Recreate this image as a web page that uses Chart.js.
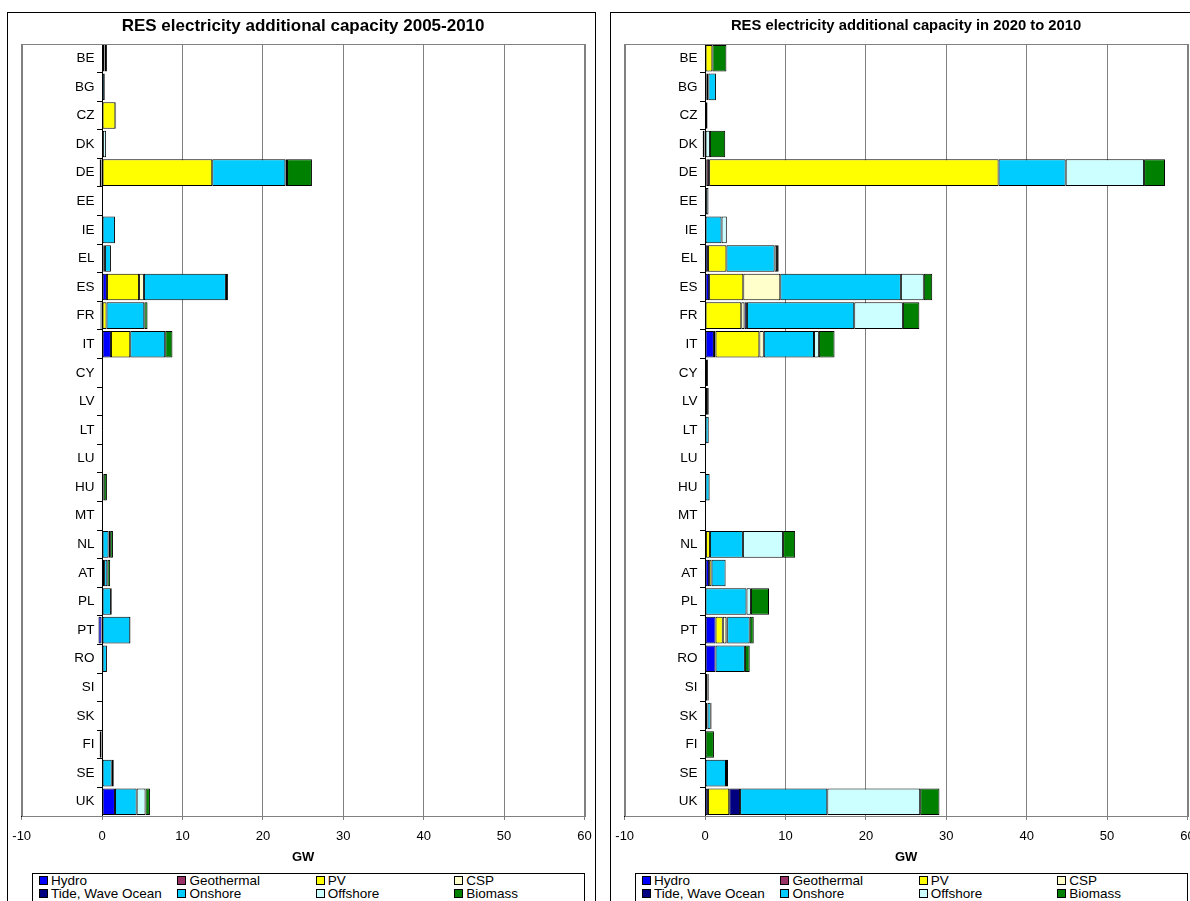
<!DOCTYPE html>
<html>
<head>
<meta charset="utf-8">
<script src="https://cdn.jsdelivr.net/npm/chart.js@4.4.0/dist/chart.umd.min.js"></script>
<style>
  html, body { margin: 0; padding: 0; background: #fff; overflow: hidden; width: 1190px; height: 901px; }
  .box { position: absolute; top: 12px; width: 589px; height: 900px; border: 1px solid #000; box-sizing: border-box; }
  canvas { position: absolute; top: 12px; }
  .axtitle { position: absolute; top: 849px; width: 100px; text-align: center; line-height: 16px;
             font: bold 13px "Liberation Sans", Arial, sans-serif; color: #000; }
  .legend { position: absolute; top: 873px; width: 553px; height: 40px; border: 1px solid #000; box-sizing: border-box;
            font-family: "Liberation Sans", Arial, sans-serif; font-size: 13.5px; color: #000; }
  .legend .item { position: absolute; white-space: nowrap; line-height: 13px; }
  .legend .sw { display: inline-block; width: 7px; height: 7px; border: 1px solid #000; margin-right: 3px; vertical-align: 0px; }
</style>
</head>
<body>
<div class="box" style="left:7px"></div>
<div class="box" style="left:610px"></div>
<canvas id="left" width="589" height="840" style="left:7px"></canvas>
<canvas id="right" width="589" height="840" style="left:610px"></canvas>
<div class="axtitle" id="gwLeft">GW</div>
<div class="axtitle" id="gwRight">GW</div>
<div class="legend" id="legLeft" style="left:32px"></div>
<div class="legend" id="legRight" style="left:635px"></div>
<script>
var countries = ['BE','BG','CZ','DK','DE','EE','IE','EL','ES','FR','IT','CY','LV','LT','LU','HU','MT','NL','AT','PL','PT','RO','SI','SK','FI','SE','UK'];
var seriesNames = ['Hydro','Geothermal','PV','CSP','Tide, Wave Ocean','Onshore','Offshore','Biomass'];
var seriesColors = ['#0000FF','#993366','#FFFF00','#FFFFCC','#000080','#00CCFF','#CCFFFF','#008000'];
var xTicks = [-10, 0, 10, 20, 30, 40, 50, 60];

// 2005-2010, GW, one value per country
var hydro0510      = [0,0,0,0,-0.3,0,0,0.15,0.6,-0.2,1.1,0,0,0,0,0,0,0,0.25,0,-0.45,0,0.05,0.05,0,0,1.6];
var geothermal0510 = [0,0,0,0,0,0,0,0,0,0,0,0,0,0,0,0,0,0,0,0,0,0,0,0,0,0,0];
var pv0510         = [0.3,0,1.65,0,13.7,0,0,0.2,4.0,0.55,2.4,0,0,0,0,0,0,0,0,0,0,0,0,0,0,0,0];
var csp0510        = [0,0,0,0,0,0,0,0,0.6,0,0,0,0,0,0,0,0,0,0,0,0,0,0,0,0,0,0];
var tide0510       = [0,0,0,0,0,0,0,0,0,0,0,0,0,0,0,0,0,0,0,0,0,0,0,0,0,0,0];
var onshore0510    = [0.05,0.33,0,0.1,9.1,0,1.6,0.75,10.2,4.7,4.35,0,0,0.1,0,0.2,0,0.8,0.4,1.1,3.5,0.6,0,0,0,1.2,2.7];
var offshore0510   = [0,0,0,0.4,0.2,0,0,0,0,0,0,0,0,0,0,0,0,0.2,0,0,0,0,0,0,0,0,1.1];
var biomass0510    = [0.25,0,0.1,0,3.1,0,0,0,0.25,0.4,0.9,0,0,0,0,0.4,0,0.35,0.35,0.1,0.05,0,0.05,0.05,-0.3,0.25,0.55];

// 2010 to 2020, GW
var hydro2020      = [0,0.2,0,0,0.2,0,0,0.35,0.5,0,1.1,0,0.05,0,0.05,0,0,0.1,0.5,0.05,1.3,1.3,0.3,0.3,0,0,0.35];
var geothermal2020 = [0,0,0,0,0.3,0,0,0,0,0,0.2,0,0,0,0,0,0,0,0,0,0,0,0,0,0,0,0];
var pv2020         = [0.9,0.2,0,0,36.0,0,0,2.3,4.25,4.5,5.45,0.1,0,0,0,0.05,0,0.5,0.3,0,0.9,0,0,0,0,0,2.65];
var csp2020        = [0,0,0,0,0,0,0,0,4.6,0.4,0.55,0,0,0,0,0,0,0,0,0,0.45,0,0,0,0,0,0];
var tide2020       = [0,0,0,0,0,0,0,0,0,0.3,0,0,0,0,0,0,0,0,0,0,0.1,0,0,0,0,0,1.35];
var onshore2020    = [0,0.95,0,-0.3,8.35,0.1,2.05,6.0,15.0,13.35,6.25,0.25,0.2,0.45,0.05,0.5,0.05,4.1,1.75,5.1,2.8,3.65,0,0.4,0,2.6,10.85];
var offshore2020   = [0,0,0,0.6,9.75,0.3,0.65,0.3,2.85,6.05,0.6,0,0,0,0,0,0,5.0,0,0.55,0,0,0,0,0,0,11.55];
var biomass2020    = [1.75,0,0.3,1.9,2.6,0.05,0,0.2,1.05,2.05,1.95,0,0.2,0,0,0.05,0,1.5,0,2.25,0.5,0.6,0.15,0.1,1.1,0.25,2.4];

var FONT = '"Liberation Sans", Arial, sans-serif';

// plot area frame, like the excel one
var frame = {
    id: 'frame',
    beforeDatasetsDraw: function(chart) {
        var a = chart.chartArea, c = chart.ctx;
        c.save();
        c.strokeStyle = '#808080';
        c.lineWidth = 1;
        c.strokeRect(Math.round(a.left) + 0.5, Math.round(a.top) + 0.5, Math.round(a.right - a.left), Math.round(a.bottom - a.top));
        c.restore();
    }
};

function makeChart(id, title, titleSize, values) {
    var lh = titleSize * 1.2;
    var padTop = 14 - lh / 2;
    var datasets = [];
    for (var i = 0; i < seriesNames.length; i++) {
        datasets.push({
            label: seriesNames[i],
            data: values[i],
            backgroundColor: seriesColors[i],
            borderColor: '#000',
            borderWidth: 1,
            borderSkipped: false,
            barPercentage: 0.93,
            categoryPercentage: 1.0
        });
    }
    return new Chart(document.getElementById(id).getContext('2d'), {
        type: 'bar',
        data: { labels: countries, datasets: datasets },
        plugins: [frame],
        options: {
            indexAxis: 'y',
            responsive: false,
            animation: false,
            devicePixelRatio: 1,
            layout: { padding: { left: 14.7, right: 11.5, top: 0, bottom: 0 } },
            plugins: {
                legend: { display: false },
                tooltip: { enabled: false },
                title: {
                    display: true,
                    text: title,
                    color: '#000',
                    font: { family: FONT, size: titleSize, weight: 'bold' },
                    padding: { top: padTop, bottom: 32 - padTop - lh }
                }
            },
            scales: {
                x: {
                    type: 'linear',
                    stacked: true,
                    min: xTicks[0],
                    max: xTicks[xTicks.length - 1],
                    afterBuildTicks: function(axis) {
                        axis.ticks = xTicks.map(function(v) { return { value: v }; });
                    },
                    ticks: { color: '#000', font: { family: FONT, size: 13, lineHeight: '24px' }, padding: 4, maxRotation: 0 },
                    grid: { color: '#808080', tickLength: 4 },
                    border: { color: '#000' },
                    title: { display: false }
                },
                y: {
                    type: 'category',
                    stacked: true,
                    position: { x: 0 },
                    grid: { drawOnChartArea: false, tickLength: 5, color: '#000' },
                    border: { color: '#000' },
                    ticks: {
                        autoSkip: false,
                        color: '#000',
                        font: { family: FONT, size: 13.5 },
                        callback: function(v) { return countries[v] + '  '; }
                    }
                }
            }
        }
    });
}

function makeLegend(id) {
    var el = document.getElementById(id);
    for (var i = 0; i < seriesNames.length; i++) {
        var d = document.createElement('div');
        d.className = 'item';
        d.style.left = (6 + (i % 4) * 138.4) + 'px';
        d.style.top = (Math.floor(i / 4) * 13) + 'px';
        d.innerHTML = '<span class="sw" style="background:' + seriesColors[i] + '"></span>' + seriesNames[i];
        el.appendChild(d);
    }
}

// put the GW label under the middle of each plot area
function placeAxisTitle(chart, elId, canvasLeft) {
    var a = chart.chartArea;
    var el = document.getElementById(elId);
    el.style.left = (canvasLeft + (a.left + a.right) / 2 - 50) + 'px';
}

var leftChart = makeChart('left', 'RES electricity additional capacity 2005-2010', 17,
    [hydro0510, geothermal0510, pv0510, csp0510, tide0510, onshore0510, offshore0510, biomass0510]);
var rightChart = makeChart('right', 'RES electricity additional capacity in 2020 to 2010', 14.8,
    [hydro2020, geothermal2020, pv2020, csp2020, tide2020, onshore2020, offshore2020, biomass2020]);
placeAxisTitle(leftChart, 'gwLeft', 7);
placeAxisTitle(rightChart, 'gwRight', 610);
makeLegend('legLeft');
makeLegend('legRight');
</script>
</body>
</html>
